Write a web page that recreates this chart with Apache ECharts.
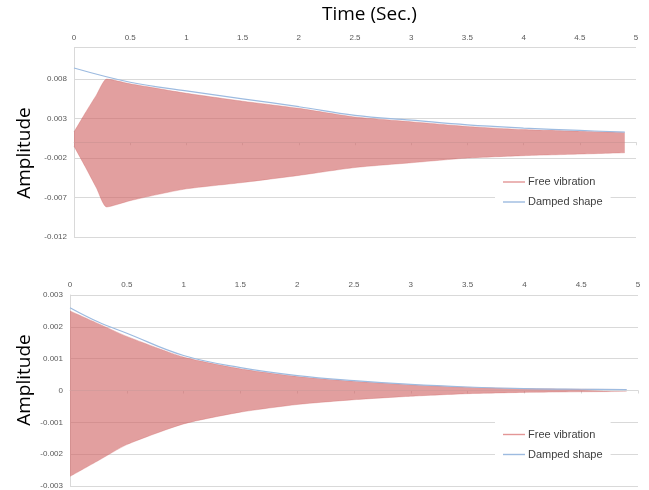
<!DOCTYPE html>
<html>
<head>
<meta charset="utf-8">
<script src="https://cdn.jsdelivr.net/npm/echarts@6/dist/echarts.min.js"></script>
<style>
html,body{margin:0;padding:0;background:#fff;}
#chart{width:649px;height:490px;}
</style>
</head>
<body>
<div id="chart"></div>
<script>
// ---- Data ----
// Top chart: vibration envelope (upper / lower edges of the red band)
const topTime  = [0, 0.1, 0.2, 0.29, 0.5, 0.75, 1, 1.5, 2, 2.5, 3, 3.5, 4, 4.5, 4.9];
const topUpper = [0.0013, 0.0037, 0.0060, 0.0080, 0.0074, 0.0068, 0.0062, 0.0052, 0.0043, 0.0032, 0.0026, 0.0020, 0.0016, 0.0014, 0.00125];
const topLower = [-0.0005, -0.0031, -0.0058, -0.0082, -0.0074, -0.0066, -0.0059, -0.0051, -0.0042, -0.0032, -0.0026, -0.0020, -0.0017, -0.0015, -0.00133];
// Top chart: damped shape (blue)
const topDampTime = [0, 0.5, 1, 1.5, 2, 2.5, 3, 3.5, 4, 4.5, 4.9];
const topDamp     = [0.0094, 0.0076, 0.0065, 0.0055, 0.0045, 0.0034, 0.0028, 0.0022, 0.0018, 0.0015, 0.00128];

// Bottom chart: vibration envelope
const botTime  = [0, 0.25, 0.5, 1, 1.5, 2, 2.5, 3, 3.5, 4, 4.5, 4.9];
const botUpper = [0.0025, 0.0021, 0.0017, 0.00105, 0.00068, 0.00044, 0.00029, 0.00018, 0.00010, 0.00006, 0.00004, 0.00003];
const botLower = [-0.0027, -0.0022, -0.0017, -0.00105, -0.00068, -0.00044, -0.00029, -0.00018, -0.00010, -0.00006, -0.00004, -0.00003];
// Bottom chart: damped shape
const botDampTime = [0, 0.25, 0.5, 1, 1.5, 2, 2.5, 3, 3.5, 4, 4.5, 4.9];
const botDamp     = [0.0026, 0.00215, 0.0018, 0.0011, 0.00072, 0.00047, 0.00031, 0.00019, 0.00011, 0.00006, 0.00004, 0.00003];

// Tick labels
const xTicks     = [0, 0.5, 1, 1.5, 2, 2.5, 3, 3.5, 4, 4.5, 5];
const topYTicks  = [-0.012, -0.007, -0.002, 0.003, 0.008];
const topYMax    = 0.012;
const botYTicks  = [-0.003, -0.002, -0.001, 0, 0.001, 0.002, 0.003];

const seriesNames = ['Free vibration', 'Damped shape'];
// ----------------------------------------------

const pairs = (xs, ys) => xs.map((x, i) => [x, ys[i]]);
const fmt = v => String(parseFloat(Number(v).toFixed(4)));

const RED = 'rgba(208,100,100,0.62)';
const RED_LEG = '#e39696';
const BLUE = '#9dbbe0';
const GRID = '#d9d9d9';
const LBL = '#595959';

function xAxis(gi) {
  return {
    type: 'value', gridIndex: gi, position: 'top',
    min: xTicks[0], max: xTicks[xTicks.length - 1], interval: xTicks[1] - xTicks[0],
    axisLine: { show: true, lineStyle: { color: GRID } },
    axisTick: { show: true, inside: true, length: 3, lineStyle: { color: GRID } },
    axisLabel: { color: LBL, fontSize: 8, fontFamily: 'Liberation Sans', margin: 6, formatter: fmt },
    splitLine: { show: false }
  };
}
function yAxis(gi, ticks, max) {
  return {
    type: 'value', gridIndex: gi,
    min: ticks[0], max: max, interval: +(ticks[1] - ticks[0]).toFixed(6),
    axisLine: { show: true, onZero: false, lineStyle: { color: GRID } },
    axisTick: { show: false },
    axisLabel: { color: LBL, fontSize: 8, fontFamily: 'Liberation Sans', margin: 7, formatter: fmt,
                 showMaxLabel: max === ticks[ticks.length - 1] },
    splitLine: { show: true, lineStyle: { color: GRID, width: 1 } }
  };
}
function band(gi, xs, ys) {
  return {
    name: seriesNames[0], type: 'line', xAxisIndex: gi, yAxisIndex: gi,
    data: pairs(xs, ys), symbol: 'none', smooth: 0.2, silent: true,
    itemStyle: { color: RED_LEG },
    lineStyle: { color: RED, width: 0.5 },
    areaStyle: { color: RED, opacity: 1 },
    z: 2
  };
}
function damp(gi, xs, ys) {
  return {
    name: seriesNames[1], type: 'line', xAxisIndex: gi, yAxisIndex: gi,
    data: pairs(xs, ys), symbol: 'none', smooth: 0.4, silent: true,
    itemStyle: { color: BLUE },
    lineStyle: { color: BLUE, width: 1.2 },
    z: 3
  };
}
function legend(top, padTop) {
  return {
    orient: 'vertical', left: 495, top: top,
    padding: [padTop, 8, 8, 8], backgroundColor: '#ffffff',
    itemWidth: 22, itemHeight: 1.4, itemGap: 9,
    textStyle: { color: '#404040', fontSize: 11, fontFamily: 'Liberation Sans', padding: [0, 0, 0, -2] },
    data: [
      { name: seriesNames[0], icon: 'rect', itemStyle: { color: RED_LEG } },
      { name: seriesNames[1], icon: 'rect', itemStyle: { color: BLUE } }
    ],
    selectedMode: false
  };
}

const chart = echarts.init(document.getElementById('chart'), null, { renderer: 'canvas' });
chart.setOption({
  animation: false,
  backgroundColor: '#ffffff',
  grid: [
    { left: 74, right: 13, top: 47.5, height: 189.5 },
    { left: 70, right: 11, top: 295, height: 191 }
  ],
  xAxis: [xAxis(0), xAxis(1)],
  yAxis: [yAxis(0, topYTicks, topYMax), yAxis(1, botYTicks, botYTicks[botYTicks.length - 1])],
  legend: [legend(170.5, 6), legend(415, 14)],
  graphic: [
    { type: 'text', left: 322, top: 5, style: { text: 'Time (Sec.)', font: '19px "Open Sans"', fill: '#000' } },
    { type: 'text', x: 25, y: 153, rotation: Math.PI / 2,
      style: { text: 'Amplitude', font: '19px "Open Sans"', fill: '#000', align: 'center', verticalAlign: 'middle' } },
    { type: 'text', x: 25, y: 380, rotation: Math.PI / 2,
      style: { text: 'Amplitude', font: '19px "Open Sans"', fill: '#000', align: 'center', verticalAlign: 'middle' } }
  ],
  series: [
    band(0, topTime, topUpper), band(0, topTime, topLower), damp(0, topDampTime, topDamp),
    band(1, botTime, botUpper), band(1, botTime, botLower), damp(1, botDampTime, botDamp)
  ]
});
</script>
</body>
</html>
